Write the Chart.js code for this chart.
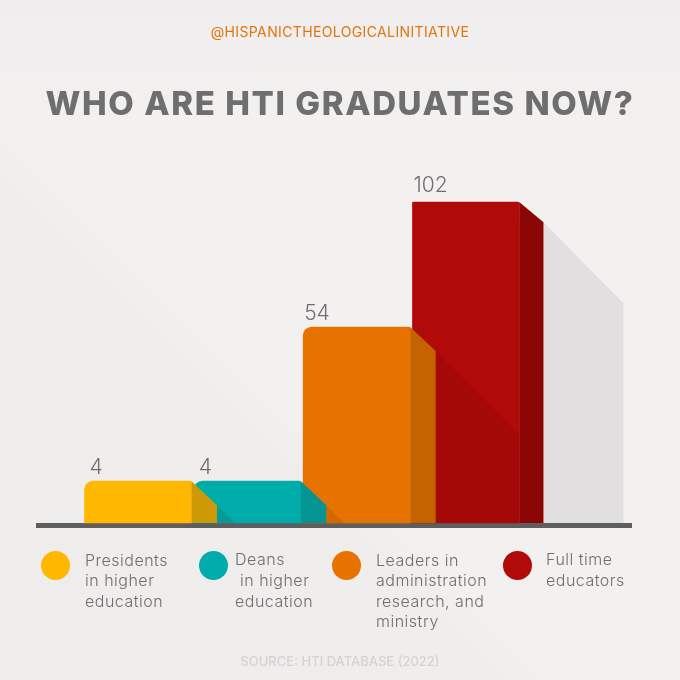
<!DOCTYPE html>
<html>
<head>
<meta charset="utf-8">
<script src="https://cdn.jsdelivr.net/npm/chart.js@4/dist/chart.umd.min.js"></script>
<style>
    html, body { margin: 0; padding: 0; }
    #page {
        position: relative; width: 680px; height: 680px; overflow: hidden;
        background:
            linear-gradient(180deg, #efeded 0, rgba(239,237,237,0) 120px),
            linear-gradient(45deg, #efecec 0, #f0eded 37%, #f3f0f0 41%);
        font-family: "Inter", sans-serif;
    }
    canvas { position: absolute; left: 0; top: 0; }
    .txt { position: absolute; white-space: pre; }
    #handle { left: 0; width: 680px; top: 22px; text-align: center; font: 14px/20px "Inter", sans-serif; color: #e0760f; letter-spacing: 0.37px; }
    #title { left: 0; width: 680px; top: 78px; text-align: center; font: 800 33px/50px "Inter", sans-serif; color: #6f6e6e; letter-spacing: 1.6px; }
    #source { left: 0; width: 680px; top: 652px; text-align: center; font: 500 13px/18px "Inter", sans-serif; color: #d4d2d2; }
    .dot { position: absolute; top: 551px; width: 29px; height: 29px; border-radius: 50%; }
    .lab { position: absolute; top: 550px; font: 300 16px/20.4px "Inter", sans-serif; color: #6f6e6e; letter-spacing: 0.5px; white-space: pre; }
    .dot.c0 { left: 41px; }  .lab.c0 { left: 85px; }
    .dot.c1 { left: 199px; } .lab.c1 { left: 235px; top: 549px; line-height: 21px; }
    .dot.c2 { left: 332px; } .lab.c2 { left: 376px; }
    .dot.c3 { left: 503px; } .lab.c3 { left: 546px; top: 549px; line-height: 21px; }
</style>
</head>
<body>
<div id="page">
    <canvas id="htiChart" width="680" height="680"></canvas>
    <div id="handle" class="txt">@HISPANICTHEOLOGICALINITIATIVE</div>
    <div id="title" class="txt">WHO ARE HTI GRADUATES NOW?</div>
    <div id="source" class="txt">SOURCE: HTI DATABASE (2022)</div>
</div>
<script>
// the printed numbers
const printedValues = [4, 4, 54, 102];
// the bars in the original are not to scale, these are the drawn heights in units of the 102 bar
const drawnHeights = [13.3, 13.3, 62.3, 102];
const categories = [
    'Presidents\nin higher\neducation',
    'Deans\n in higher\neducation',
    'Leaders in\nadministration\nresearch, and\nministry',
    'Full time\neducators'
];
const frontColors = ['#ffb700', '#00acaa', '#e67300', '#b00b08'];
const sideColors = ['#cc9a06', '#049593', '#c56300', '#8b0505'];

const page = document.getElementById('page');
categories.forEach((c, i) => {
    const dot = document.createElement('div');
    dot.className = 'dot c' + i;
    dot.style.background = frontColors[i];
    page.appendChild(dot);
    const lab = document.createElement('div');
    lab.className = 'lab c' + i;
    lab.textContent = c;
    page.appendChild(lab);
});

const SIDE_W = 25.5;
const SIDE_DROP = 24;
const LAST_SIDE_W = 24;
const LAST_SIDE_DROP = 20;

// 3d side faces, cast shadows and the numbers above the bars
const faces = {
    id: 'faces',
    beforeDatasetsDraw(chart) {
        const { ctx, scales } = chart;
        const bars = chart.getDatasetMeta(0).data;
        const last = bars[bars.length - 1];
        const base = scales.y.getPixelForValue(0);
        const sx = last.x + last.width / 2 + LAST_SIDE_W;
        const sy = last.y + LAST_SIDE_DROP;
        // long shadow behind the tallest bar
        ctx.save();
        ctx.fillStyle = '#e1dfdf';
        ctx.beginPath();
        ctx.moveTo(sx, sy);
        ctx.lineTo(sx + 80, sy + 81);
        ctx.lineTo(sx + 80, base);
        ctx.lineTo(sx, base);
        ctx.closePath();
        ctx.fill();
        ctx.restore();
    },
    afterDatasetsDraw(chart) {
        const { ctx, scales } = chart;
        const bars = chart.getDatasetMeta(0).data;
        const base = scales.y.getPixelForValue(0);
        ctx.save();
        bars.forEach((bar, i) => {
            const isLast = i === bars.length - 1;
            const right = bar.x + bar.width / 2;
            const fx = right + (isLast ? LAST_SIDE_W : SIDE_W);
            const fy = bar.y + (isLast ? LAST_SIDE_DROP : SIDE_DROP);
            // shadow on the next bar
            if (!isLast) {
                const next = bars[i + 1];
                const nextRight = next.x + next.width / 2;
                const run = Math.min(nextRight - fx, base - fy);
                ctx.fillStyle = 'rgba(60,0,0,0.1)';
                ctx.beginPath();
                ctx.moveTo(fx, fy);
                ctx.lineTo(fx + run, fy + run);
                ctx.lineTo(fx + run, base);
                ctx.lineTo(fx, base);
                ctx.closePath();
                ctx.fill();
            }
            ctx.fillStyle = sideColors[i];
            ctx.beginPath();
            ctx.moveTo(right, bar.y);
            ctx.lineTo(fx, fy);
            ctx.lineTo(fx, base);
            ctx.lineTo(right, base);
            ctx.closePath();
            ctx.fill();

            ctx.fillStyle = '#6f6e6e';
            ctx.font = '300 21px "Inter", sans-serif';
            ctx.textAlign = 'left';
            ctx.textBaseline = 'alphabetic';
            ctx.fillText(String(printedValues[i]), bar.x - bar.width / 2 + (bar.height < 100 ? 5 : 1),
                bar.y - (bar.height > 250 ? 10 : 7));
        });
        ctx.restore();
    }
};

const chart = new Chart(document.getElementById('htiChart').getContext('2d'), {
    type: 'bar',
    data: {
        datasets: [{
            data: drawnHeights.map((h, i) => ({ x: i + 1, y: h })),
            backgroundColor: frontColors,
            borderRadius: (c) => {
                const r = c.dataIndex < 3 ? 9 : 1;
                return { topLeft: r, topRight: 2, bottomLeft: 0, bottomRight: 0 };
            },
            borderSkipped: false,
            barThickness: 107
        }]
    },
    options: {
        responsive: false,
        animation: false,
        layout: { padding: { left: 38.5, right: 48.5, top: 177, bottom: 154.5 } },
        plugins: { legend: { display: false }, tooltip: { enabled: false } },
        scales: {
            x: {
                type: 'linear',
                offset: false,
                min: 0.09,
                max: 5.514,
                grid: { display: false, drawTicks: false },
                ticks: { display: false },
                border: { display: true, color: '#5f5e5e', width: 5 }
            },
            y: {
                display: false,
                min: -0.8,
                max: 110
            }
        }
    },
    plugins: [faces]
});
</script>
</body>
</html>
